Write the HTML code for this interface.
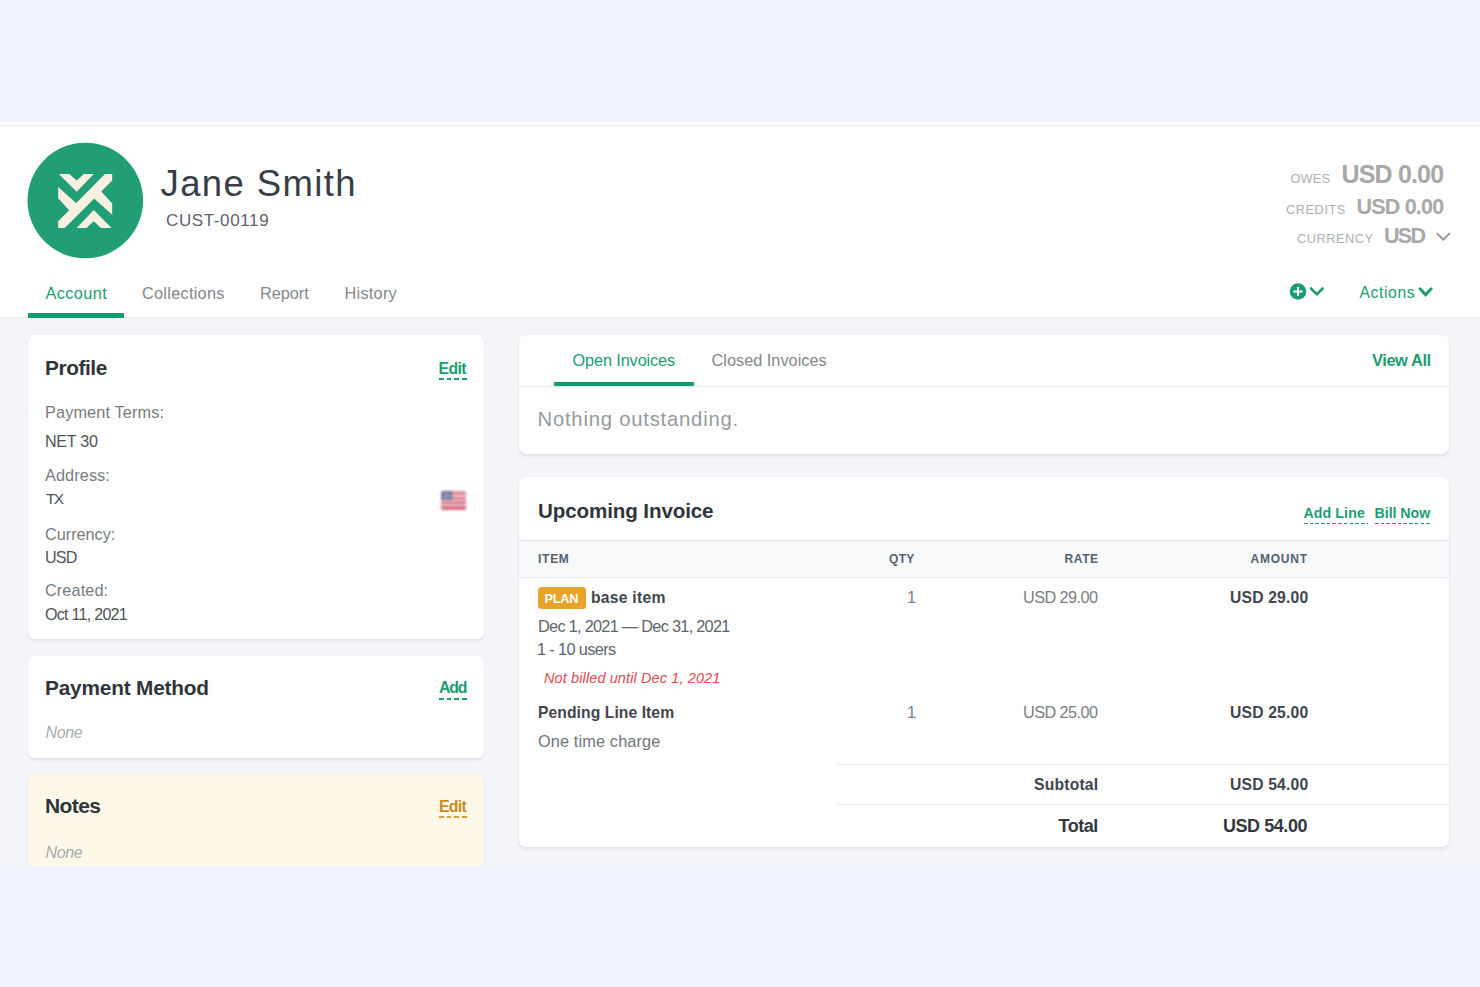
<!DOCTYPE html>
<html lang="en"><head><meta charset="utf-8"><title>Jane Smith - Account</title>
<style>
html,body{margin:0;padding:0}
body{width:1480px;height:987px;position:relative;overflow:hidden;background:#f0f3fe;font-family:"Liberation Sans",sans-serif}
.a{position:absolute;display:block}
.t{position:absolute;white-space:nowrap;line-height:1}
</style></head>
<body>
<div class="a" style="left:0;top:122px;width:1480px;height:196px;background:#fff"></div>
<div class="a" style="left:0;top:124.6px;width:1480px;height:1.2px;background:#e6e6e9"></div>
<div class="a" style="left:0;top:318px;width:1480px;height:547.5px;background:#f4f5f9"></div>
<div class="a" style="left:0;top:317px;width:1480px;height:1.5px;background:#eeeef1"></div>
<svg class="a" style="left:27px;top:142px" width="118" height="118" viewBox="27 142 118 118">
<circle cx="85.3" cy="200.5" r="57.8" fill="#229e76"/>
<g fill="#f8f1e3" transform="translate(58.2,173.9) scale(0.1317)">
<polygon points="5,0 85,0 140,50 195,0 270,0 140,135"/>
<polygon points="355,0 410,0 410,50 50,410 0,410 0,360"/>
<polygon points="0,100 150,235 95,290 0,185"/>
<polygon points="410,310 260,175 315,120 410,225"/>
<polygon points="405,410 325,410 270,360 215,410 140,410 270,275"/>
</g></svg>
<div class="a" style="left:27.5px;top:313.4px;width:96.8px;height:5px;background:#109d72"></div>
<div class="a" style="left:27.7px;top:335px;width:455.9px;height:304.4px;background:#fff;border-radius:6.5px;box-shadow:0 2px 3px rgba(30,40,70,0.09),0 0 2px rgba(30,40,70,0.05)"></div>
<div class="a" style="left:27.7px;top:656.3px;width:455.9px;height:101.6px;background:#fff;border-radius:6.5px;box-shadow:0 2px 3px rgba(30,40,70,0.09),0 0 2px rgba(30,40,70,0.05)"></div>
<div class="a" style="left:27.7px;top:774.8px;width:455.9px;height:100px;background:#fef8e8;border-radius:6.5px;box-shadow:0 2px 3px rgba(30,40,70,0.09),0 0 2px rgba(30,40,70,0.05)"></div>
<div class="a" style="left:0;top:865.5px;width:1480px;height:121.5px;background:#f0f3fe"></div>
<div class="a" style="left:519.2px;top:335px;width:930px;height:118.6px;background:#fff;border-radius:6.5px;box-shadow:0 2px 3px rgba(30,40,70,0.09),0 0 2px rgba(30,40,70,0.05)"></div>
<div class="a" style="left:519.2px;top:476.7px;width:930px;height:370.7px;background:#fff;border-radius:6.5px;box-shadow:0 2px 3px rgba(30,40,70,0.09),0 0 2px rgba(30,40,70,0.05)"></div>
<div class="a" style="left:519.2px;top:386px;width:930px;height:1.2px;background:#e7e9ed"></div>
<div class="a" style="left:554.1px;top:381.6px;width:139.7px;height:4.4px;background:#109d72"></div>
<div class="a" style="left:519.2px;top:540px;width:930px;height:37.8px;background:#f8f9fb;border-top:1.2px solid #e6e8ed;border-bottom:1.2px solid #e6e8ed;box-sizing:border-box"></div>
<div class="a" style="left:537.6px;top:587.2px;width:48.7px;height:21.4px;background:#e9a22c;border-radius:3.5px"></div>
<div class="a" style="left:836.8px;top:764.2px;width:612.4px;height:1.2px;background:#e2e6ee"></div>
<div class="a" style="left:836.8px;top:804.2px;width:612.4px;height:1.2px;background:#e2e6ee"></div>
<div class="a" style="left:439.1px;top:378px;width:27.8px;height:2px;background:repeating-linear-gradient(90deg,#1b9d74 0,#1b9d74 4.7px,transparent 4.7px,transparent 7.6px)"></div>
<div class="a" style="left:438.8px;top:698px;width:28.2px;height:2px;background:repeating-linear-gradient(90deg,#1b9d74 0,#1b9d74 4.7px,transparent 4.7px,transparent 7.6px)"></div>
<div class="a" style="left:438.8px;top:816px;width:28.2px;height:2px;background:repeating-linear-gradient(90deg,#d9a031 0,#d9a031 4.7px,transparent 4.7px,transparent 7.6px)"></div>
<div class="a" style="left:1303.9px;top:522.6px;width:64.1px;height:1.6px;background:repeating-linear-gradient(90deg,#1b9d74 0,#1b9d74 3.6px,transparent 3.6px,transparent 5.7px)"></div>
<div class="a" style="left:1374.7px;top:522.6px;width:56.2px;height:1.6px;background:repeating-linear-gradient(90deg,#1b9d74 0,#1b9d74 3.6px,transparent 3.6px,transparent 5.7px)"></div>
<svg class="a" style="left:439px;top:488px;filter:blur(0.8px);opacity:.95" width="30" height="25" viewBox="439 488 30 25">
<defs><clipPath id="fc"><rect x="441.1" y="490.7" width="25" height="19.5" rx="2.2"/></clipPath></defs>
<g clip-path="url(#fc)">
<rect x="441" y="490" width="26" height="21" fill="#ecc3ca"/>
<rect x="441" y="490.7" width="26" height="1.6" fill="#e9a3ae"/>
<rect x="441" y="492.3" width="26" height="2.5" fill="#de7f8d"/>
<rect x="441" y="497" width="26" height="2.6" fill="#dc7d8b"/>
<rect x="441" y="501.3" width="26" height="2.8" fill="#d97786"/>
<rect x="441" y="506" width="26" height="4.3" fill="#d67183"/>
<rect x="441" y="490.7" width="11.3" height="9.2" fill="#74749f"/>
<g fill="#a9a9c6"><rect x="444" y="494" width="6" height="1"/><rect x="444" y="496.5" width="6" height="1"/></g>
</g></svg>
<svg class="a" style="left:1434px;top:230px" width="20" height="14" viewBox="1434 230 20 14"><polyline points="1437.2,233.6 1443.3,239.8 1449.4,233.6" fill="none" stroke="#9a9a9a" stroke-width="2" stroke-linecap="round" stroke-linejoin="round"/></svg>
<svg class="a" style="left:1286px;top:280px" width="42" height="24" viewBox="1286 280 42 24">
<circle cx="1298" cy="291.5" r="8.3" fill="#1b9d74"/>
<path d="M1298 287v9M1293.5 291.5h9" stroke="#fff" stroke-width="2" stroke-linecap="butt" fill="none"/>
<polyline points="1311,288.5 1316.8,294.4 1322.6,288.5" fill="none" stroke="#1b9d74" stroke-width="2.6" stroke-linecap="round" stroke-linejoin="round"/>
</svg>
<svg class="a" style="left:1415px;top:283px" width="22" height="18" viewBox="1415 283 22 18"><polyline points="1420,288.7 1425.6,294.8 1431.2,288.7" fill="none" stroke="#1b9d74" stroke-width="2.9" stroke-linecap="round" stroke-linejoin="miter"/></svg>
<span class="t" style="left:160.50px;top:166.31px;font-size:36.5px;letter-spacing:1.378px;color:#373d47">Jane Smith</span>
<span class="t" style="left:166.00px;top:211.61px;font-size:17px;letter-spacing:0.622px;color:#5d6269">CUST-00119</span>
<span class="t" style="left:1290.50px;top:172.71px;font-size:12.8px;letter-spacing:0.133px;color:#b0b0b0">OWES</span>
<span class="t" style="left:1341.50px;top:161.91px;font-size:25px;font-weight:700;letter-spacing:-0.829px;color:#a8a8a8">USD 0.00</span>
<span class="t" style="left:1286.00px;top:203.80px;font-size:12.8px;letter-spacing:0.533px;color:#b0b0b0">CREDITS</span>
<span class="t" style="left:1356.50px;top:197.00px;font-size:21.5px;font-weight:700;letter-spacing:-0.800px;color:#a8a8a8">USD 0.00</span>
<span class="t" style="left:1297.00px;top:232.80px;font-size:12.8px;letter-spacing:0.514px;color:#b0b0b0">CURRENCY</span>
<span class="t" style="left:1384.00px;top:226.00px;font-size:21.5px;font-weight:700;letter-spacing:-1.700px;color:#a8a8a8">USD</span>
<span class="t" style="left:45.50px;top:284.81px;font-size:16.3px;letter-spacing:0.400px;color:#1b9d74">Account</span>
<span class="t" style="left:142.00px;top:284.81px;font-size:16.3px;letter-spacing:0.280px;color:#84878d">Collections</span>
<span class="t" style="left:260.00px;top:284.81px;font-size:16.3px;letter-spacing:-0.040px;color:#84878d">Report</span>
<span class="t" style="left:344.50px;top:284.81px;font-size:16.3px;letter-spacing:0.267px;color:#84878d">History</span>
<span class="t" style="left:1359.50px;top:285.32px;font-size:15.7px;letter-spacing:0.600px;color:#1b9d74">Actions</span>
<span class="t" style="left:45.00px;top:358.11px;font-size:20.8px;font-weight:700;letter-spacing:-0.400px;color:#30353c">Profile</span>
<span class="t" style="left:438.50px;top:360.72px;font-size:15.8px;font-weight:700;letter-spacing:-0.600px;color:#1b9d74">Edit</span>
<span class="t" style="left:45.00px;top:404.21px;font-size:16.3px;letter-spacing:0.123px;color:#797b80">Payment Terms:</span>
<span class="t" style="left:45.00px;top:433.40px;font-size:16.1px;letter-spacing:-0.280px;color:#505359">NET 30</span>
<span class="t" style="left:45.00px;top:467.11px;font-size:16.3px;letter-spacing:0.086px;color:#797b80">Address:</span>
<span class="t" style="left:46.00px;top:491.41px;font-size:15.5px;letter-spacing:-1.600px;color:#505359">TX</span>
<span class="t" style="left:45.00px;top:525.81px;font-size:16.3px;letter-spacing:-0.025px;color:#797b80">Currency:</span>
<span class="t" style="left:45.00px;top:548.51px;font-size:16.1px;letter-spacing:-0.800px;color:#505359">USD</span>
<span class="t" style="left:45.00px;top:582.21px;font-size:16.3px;letter-spacing:0.086px;color:#797b80">Created:</span>
<span class="t" style="left:45.00px;top:605.51px;font-size:16.1px;letter-spacing:-0.745px;color:#505359">Oct 11, 2021</span>
<span class="t" style="left:45.00px;top:677.61px;font-size:20.8px;font-weight:700;letter-spacing:-0.185px;color:#30353c">Payment Method</span>
<span class="t" style="left:439.00px;top:680.22px;font-size:15.8px;font-weight:700;letter-spacing:-1.100px;color:#1b9d74">Add</span>
<span class="t" style="left:45.50px;top:724.91px;font-size:16px;font-style:italic;letter-spacing:-0.333px;color:#a9acb1">None</span>
<span class="t" style="left:45.00px;top:795.31px;font-size:21px;font-weight:700;letter-spacing:-0.600px;color:#30353c">Notes</span>
<span class="t" style="left:439.00px;top:799.31px;font-size:15.8px;font-weight:700;letter-spacing:-0.733px;color:#c98b1e">Edit</span>
<span class="t" style="left:45.50px;top:844.91px;font-size:16px;font-style:italic;letter-spacing:-0.333px;color:#a9acb1">None</span>
<span class="t" style="left:572.50px;top:352.31px;font-size:16.3px;letter-spacing:-0.117px;color:#1b9d74">Open Invoices</span>
<span class="t" style="left:711.50px;top:352.31px;font-size:16.3px;letter-spacing:0.014px;color:#84878d">Closed Invoices</span>
<span class="t" style="left:1372.00px;top:351.81px;font-size:16.5px;font-weight:700;letter-spacing:-0.457px;color:#1b9d74">View All</span>
<span class="t" style="left:537.50px;top:408.70px;font-size:20.3px;letter-spacing:0.768px;color:#969aa0">Nothing outstanding.</span>
<span class="t" style="left:538.00px;top:501.20px;font-size:20.6px;font-weight:700;letter-spacing:-0.120px;color:#30353c">Upcoming Invoice</span>
<span class="t" style="left:1303.50px;top:506.01px;font-size:14.2px;font-weight:700;letter-spacing:0.086px;color:#1b9d74">Add Line</span>
<span class="t" style="left:1374.50px;top:506.01px;font-size:14.2px;font-weight:700;letter-spacing:-0.029px;color:#1b9d74">Bill Now</span>
<span class="t" style="left:538.00px;top:552.81px;font-size:12px;font-weight:700;letter-spacing:0.733px;color:#56616f">ITEM</span>
<span class="t" style="left:889.00px;top:552.81px;font-size:12px;font-weight:700;letter-spacing:0.300px;color:#56616f">QTY</span>
<span class="t" style="left:1064.50px;top:552.81px;font-size:12px;font-weight:700;letter-spacing:0.600px;color:#56616f">RATE</span>
<span class="t" style="left:1250.50px;top:552.81px;font-size:12px;font-weight:700;letter-spacing:0.760px;color:#56616f">AMOUNT</span>
<span class="t" style="left:544.50px;top:592.60px;font-size:12.8px;font-weight:700;letter-spacing:-0.267px;color:#ffffff">PLAN</span>
<span class="t" style="left:591.00px;top:589.60px;font-size:15.7px;font-weight:700;letter-spacing:0.250px;color:#41454d">base item</span>
<span class="t" style="left:907.00px;top:588.51px;font-size:16.3px;color:#7c7e83">1</span>
<span class="t" style="left:1023.00px;top:588.51px;font-size:16.3px;letter-spacing:-0.575px;color:#7c7e83">USD 29.00</span>
<span class="t" style="left:1230.00px;top:589.60px;font-size:15.7px;font-weight:700;letter-spacing:0.175px;color:#41454d">USD 29.00</span>
<span class="t" style="left:538.00px;top:618.01px;font-size:16.3px;letter-spacing:-0.704px;color:#60656c">Dec 1, 2021 — Dec 31, 2021</span>
<span class="t" style="left:537.00px;top:641.01px;font-size:16.3px;letter-spacing:-0.618px;color:#60656c">1 - 10 users</span>
<span class="t" style="left:544.00px;top:670.60px;font-size:14.5px;font-style:italic;letter-spacing:0.111px;color:#e4474f">Not billed until Dec 1, 2021</span>
<span class="t" style="left:538.00px;top:705.00px;font-size:15.7px;font-weight:700;letter-spacing:0.062px;color:#41454d">Pending Line Item</span>
<span class="t" style="left:907.00px;top:704.01px;font-size:16.3px;color:#7c7e83">1</span>
<span class="t" style="left:1023.00px;top:704.01px;font-size:16.3px;letter-spacing:-0.575px;color:#7c7e83">USD 25.00</span>
<span class="t" style="left:1230.00px;top:705.00px;font-size:15.7px;font-weight:700;letter-spacing:0.175px;color:#41454d">USD 25.00</span>
<span class="t" style="left:538.00px;top:733.40px;font-size:16.3px;letter-spacing:0.143px;color:#70757c">One time charge</span>
<span class="t" style="left:1034.00px;top:777.41px;font-size:15.7px;font-weight:700;letter-spacing:0.200px;color:#41454d">Subtotal</span>
<span class="t" style="left:1230.00px;top:777.41px;font-size:15.7px;font-weight:700;letter-spacing:0.175px;color:#41454d">USD 54.00</span>
<span class="t" style="left:1058.50px;top:816.70px;font-size:18px;font-weight:700;letter-spacing:-0.500px;color:#33373f">Total</span>
<span class="t" style="left:1223.00px;top:816.70px;font-size:18px;font-weight:700;letter-spacing:-0.450px;color:#33373f">USD 54.00</span>
</body></html>
